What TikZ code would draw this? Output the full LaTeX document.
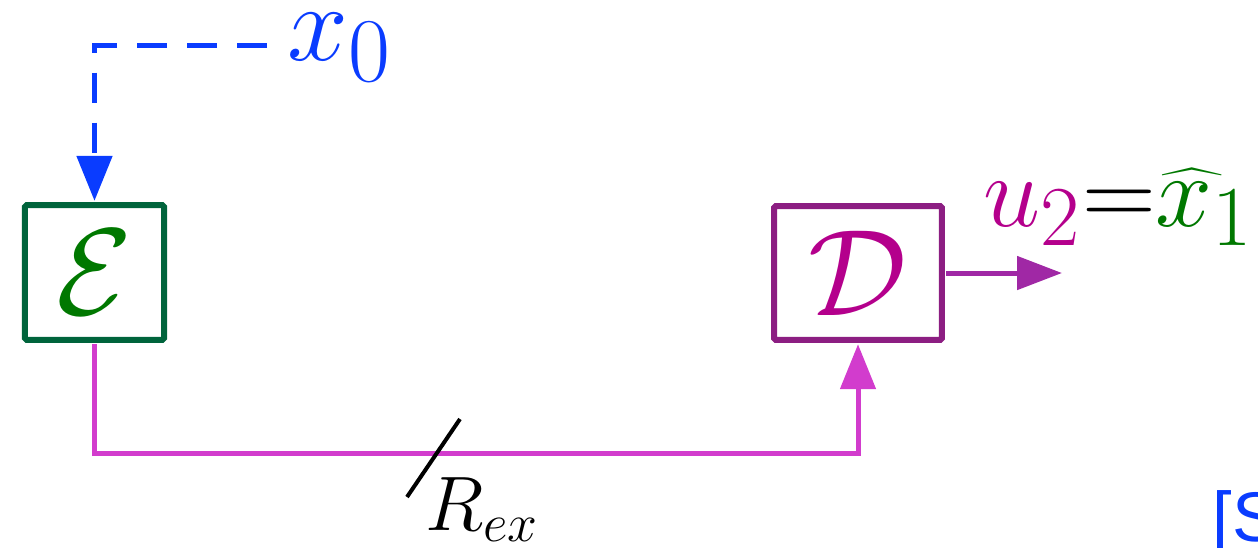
\documentclass[tikz,border=0pt]{standalone}
\usepackage{fontspec}
\newfontfamily\refsans{Liberation Sans}
\usetikzlibrary{positioning,arrows.meta,calc}

\definecolor{encgreen}{RGB}{0,100,60}
\definecolor{textgreen}{RGB}{0,120,0}
\definecolor{decpurple}{RGB}{140,30,130}
\definecolor{decmag}{RGB}{180,0,140}
\definecolor{linkmag}{RGB}{210,60,205}
\definecolor{outpurple}{RGB}{160,40,165}
\definecolor{srcblue}{RGB}{10,60,255}

\begin{document}
\begin{tikzpicture}[
    block/.style={rectangle, draw, line width=0.6mm, rounded corners=0.5pt, inner sep=0pt, font=\Huge, scale=1.41},
    srcarrow/.style={-{Triangle[length=4.5mm,width=3.5mm]}, line width=0.5mm, dash pattern=on 3mm off 2mm, color=srcblue},
    linkarrow/.style={-{Triangle[length=4.5mm,width=3.5mm]}, line width=0.5mm, color=linkmag},
    outarrow/.style={-{Triangle[length=4.5mm,width=3.3mm]}, line width=0.5mm, color=outpurple}
]
\useasboundingbox (0,0) rectangle (12.58,-5.47);

% Encoder and decoder
\node[block, draw=encgreen, minimum width=0.986cm, minimum height=0.957cm, text=textgreen] (enc) at (0.945,-2.725) {$\mathcal{E}$};
\node[block, draw=decpurple, minimum width=1.19cm, minimum height=0.95cm, text=decmag] (dec) at (8.58,-2.73) {$\mathcal{D}$};

% Source
\node[anchor=base west, inner sep=0pt, text=srcblue, font=\Huge, scale=1.25] (x0) at (2.87,-0.60) {$x_0$};
\coordinate (x0end) at (2.67,-0.45);
\draw[srcarrow] (x0end) -| (enc.north);

% Rate-limited link
\draw[linkarrow] (enc.south) -- ++(0,-1.09) -| (dec.south);
\coordinate (cut) at (4.33,-4.52);
\draw[line width=0.4mm] ($(cut)+(-0.26,-0.45)$) -- ($(cut)+(0.27,0.33)$);
\node[anchor=base west, inner sep=0pt, font=\huge, scale=1.06] (rate) at (4.25,-5.30) {$R_{ex}$};

% Output
\coordinate (out) at (10.62,-2.73);
\draw[outarrow] (dec.east) -- (out);
\node[anchor=base west, inner sep=0pt, font=\Huge, scale=1.17] (est) at (9.83,-2.26) {$\color{decmag}u_2{\color{black}=}\color{textgreen}\widehat{x\,}\!_1$};

% Cut-off reference
\node[anchor=base west, inner sep=0pt, text=srcblue, font=\refsans\fontsize{20pt}{24pt}\selectfont] (cite) at (12.12,-5.41) {[S};

\end{tikzpicture}
\end{document}
